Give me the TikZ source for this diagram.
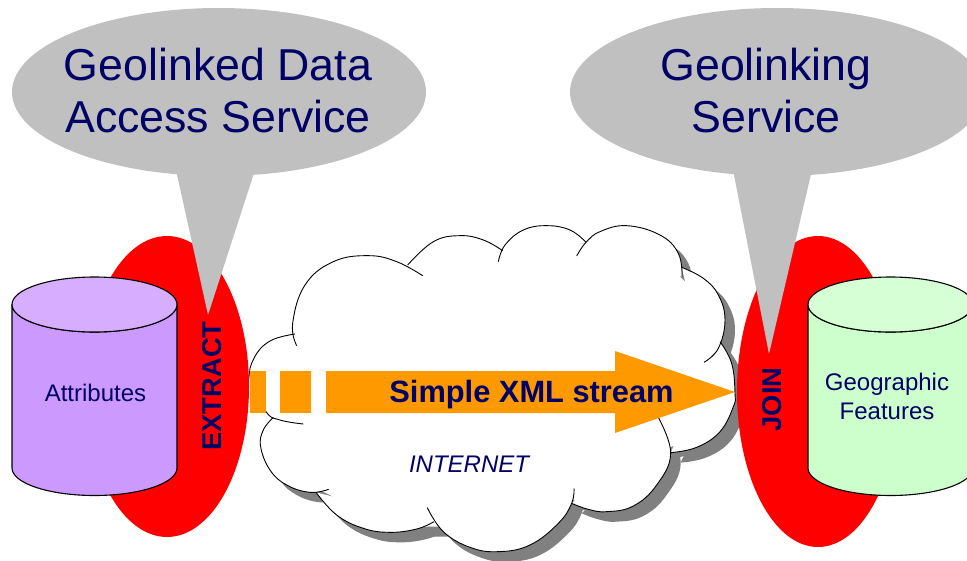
\documentclass[tikz,border=0pt]{standalone}
\usepackage{fontspec}
\setmainfont{Liberation Sans}
\definecolor{navytxt}{HTML}{000066}
\definecolor{callgray}{HTML}{C0C0C0}
\definecolor{shadowgray}{HTML}{808080}
\definecolor{arroworange}{HTML}{FF9900}
\definecolor{purpleside}{HTML}{CC99FF}
\definecolor{purpletop}{HTML}{D6ADFF}
\definecolor{greenside}{HTML}{CCFFCC}
\definecolor{greentop}{HTML}{D6FFD6}
\newcommand\lobe[2]{\path[#1] plot[smooth,tension=0.7] coordinates {#2};}
\newcommand\cloudshape[1]{%
 \lobe{#1}{(578,197) (500,155) (415,137) (310,155) (225,225) (188,340) (200,407)}
 \lobe{#1}{(195,372) (120,393) (72,445) (62,510) (108,605) (150,630) (220,642)}
 \lobe{#1}{(130,622) (100,660) (92,710) (120,780) (170,825) (240,847) (296,838)}
 \lobe{#1}{(258,847) (320,915) (400,955) (480,967) (560,957) (612,935)}
 \lobe{#1}{(592,893) (640,965) (720,1012) (805,1025) (900,1005) (985,940) (1025,880) (1032,835)}
 \lobe{#1}{(1025,880) (1075,898) (1130,905) (1210,888) (1280,825) (1322,730) (1285,622)}
 \lobe{#1}{(1322,728) (1400,712) (1470,665) (1510,590) (1515,550) (1505,460) (1470,395)}
 \lobe{#1}{(1422,457) (1465,415) (1485,330) (1465,255) (1420,205) (1355,172)}
 \lobe{#1}{(1356,200) (1345,130) (1290,75) (1190,47) (1110,65) (1068,97) (1040,138)}
 \lobe{#1}{(1068,97) (1020,60) (950,47) (880,60) (825,105) (805,155)}
 \lobe{#1}{(818,122) (760,90) (690,77) (610,95) (533,165)}
}
\newcommand\cloudcore[1]{\fill[#1] (75,500) -- (215,365) -- (490,170) -- (600,125) -- (810,125) -- (850,100) -- (1060,100) -- (1200,80) -- (1340,190) -- (1440,290) -- (1460,400) -- (1490,550) -- (1400,680) -- (1300,720) -- (1270,800) -- (1130,890) -- (1030,870) -- (805,1000) -- (640,950) -- (480,950) -- (290,850) -- (150,790) -- (110,700) -- (135,625) -- cycle;}
\tikzset{
 txt/.style={text=navytxt,inner sep=0pt,align=center},
 callout/.style={fill=callgray,draw=none},
 cylline/.style={draw=black,line width=1.1pt}
}
\begin{document}
\begin{tikzpicture}[x=1pt,y=-1pt]
\useasboundingbox (0,0) rectangle (967,560);
\clip (0,0) rectangle (967,560);
% cloud
\begin{scope}[shift={(240,220)},x=0.33333pt,y=-0.33333pt]
 \cloudshape{fill=shadowgray}
 \cloudcore{shadowgray}
\end{scope}
\begin{scope}[shift={(230,210)},x=0.33333pt,y=-0.33333pt]
 \cloudshape{fill=white}
 \cloudcore{white}
 \cloudshape{draw=black,line width=0.9pt}
\end{scope}
% red ellipses
\fill[red] (167,386.5) ellipse [x radius=82,y radius=150.5];
\fill[red] (818,391.5) ellipse [x radius=81,y radius=155.5];
% callouts
\fill[callout] (219,92) ellipse [x radius=207,y radius=84];
\fill[callout] (176,170) -- (208,315) -- (255,170) -- cycle;
\fill[callout] (777,92) ellipse [x radius=207,y radius=84];
\fill[callout] (733,170) -- (769,354) -- (812,170) -- cycle;
% arrow
\fill[arroworange] (250,371) rectangle (266,413);
\fill[arroworange] (280,371) rectangle (311,413);
\fill[arroworange] (326,371) -- (615,371) -- (615,351) -- (735,392) -- (615,433) -- (615,413) -- (326,413) -- cycle;
% cylinders
\path[cylline,fill=purpleside] (12,304.5) -- (12,468) arc [start angle=180,end angle=360,x radius=82.5,y radius=-27.5] -- (177,304.5) arc [start angle=0,end angle=180,x radius=82.5,y radius=27.5] -- cycle;
\path[cylline,fill=purpletop] (94.5,304.5) ellipse [x radius=82.5,y radius=27.5];
\path[cylline,fill=greenside] (808,304.5) -- (808,468) arc [start angle=180,end angle=360,x radius=82.5,y radius=-27.5] -- (973,304.5) arc [start angle=0,end angle=180,x radius=82.5,y radius=27.5] -- cycle;
\path[cylline,fill=greentop] (890.5,304.5) ellipse [x radius=82.5,y radius=27.5];
% texts
\node[txt,font=\fontsize{44.7}{52}\selectfont] (t1) at (218,90.7) {Geolinked Data\\Access Service};
\node[txt,font=\fontsize{44.7}{52}\selectfont] (t2) at (766,90.7) {Geolinking\\Service};
\node[txt,font=\fontsize{24}{29}\selectfont] (attr) at (95.5,393) {Attributes};
\node[txt,font=\fontsize{24}{29}\selectfont] (geo) at (887,396.5) {Geographic\\Features};
\node[txt,font=\fontsize{27.3}{32}\selectfont\bfseries,rotate=90] (extract) at (212,386) {EXTRACT};
\node[txt,font=\fontsize{27.3}{32}\selectfont\bfseries,rotate=90] (join) at (772,399.5) {JOIN};
\node[txt,font=\fontsize{30.8}{36}\selectfont\bfseries] (xml) at (531.5,395) {Simple XML stream};
\node[txt,font=\fontsize{24}{29}\selectfont\itshape] (inet) at (469,464) {INTERNET};
\end{tikzpicture}
\end{document}
